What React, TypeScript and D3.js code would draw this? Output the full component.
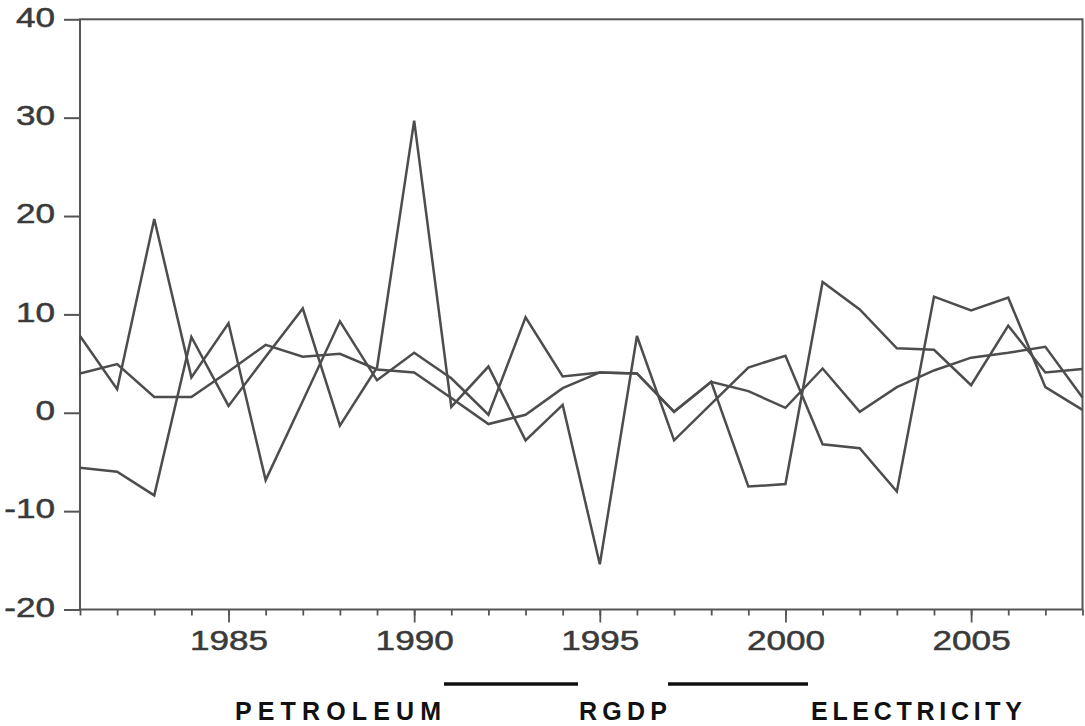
import React, { useEffect, useRef } from 'react';
import * as d3 from 'd3';

const years = d3.range(1981, 2009);

const petroleum = [
  -5.6, -6.0, -8.4, 7.7, 0.7, 5.7, 10.6, -1.3, 4.6, 29.7,
  0.6, 4.7, -2.8, 0.8, -15.4, 7.8, -2.8, 0.9, 4.6, 5.8,
  -3.2, -3.6, -8.0, 11.8, 10.4, 11.7, 2.6, 0.3,
];
const rgdp = [
  4.0, 4.95, 1.6, 1.6, 4.2, 6.9, 5.7, 6.0, 4.4, 4.1,
  1.5, -1.15, -0.2, 2.5, 4.1, 4.0, 0.1, 3.15, 2.2, 0.5,
  4.5, 0.1, 2.6, 4.3, 5.6, 6.1, 6.7, 1.55,
];
const electricity = [
  7.8, 2.4, 19.7, 3.6, 9.1, -6.85, 1.2, 9.3, 3.3, 6.1,
  3.5, -0.2, 9.7, 3.7, 4.1, 4.0, 0.1, 3.15, -7.5, -7.25,
  13.3, 10.5, 6.55, 6.4, 2.8, 8.85, 4.1, 4.45,
];

const yTicks = [-20, -10, 0, 10, 20, 30, 40];
const xLabelTicks = [1985, 1990, 1995, 2000, 2005];
const seriesNames = ['PETROLEUM', 'RGDP', 'ELECTRICITY'];

// widen the axis digits like the scanned original
function stretchText(sel: d3.Selection<any, any, any, any>, k: number) {
  sel.each(function () {
    const t = this as SVGTextElement;
    const w = t.getComputedTextLength();
    d3.select(t).attr('textLength', w * k).attr('lengthAdjust', 'spacingAndGlyphs');
  });
}

export default function App() {
  const ref = useRef<SVGSVGElement>(null);

  useEffect(() => {
    const svg = d3.select(ref.current);
    svg.selectAll('*').remove();

    const left = 80, right = 1082.5, top = 19.3, bottom = 609.5;
    const x = d3.scaleLinear().domain([1981, 2008]).range([left, right]);
    const y = d3.scaleLinear().domain([-20, 40]).range([bottom, top]);
    const axisColor = '#555';
    const textColor = '#3a3a3a';
    const stretch = 1.3;

    // frame
    svg.append('rect')
      .attr('x', left).attr('y', top)
      .attr('width', right - left).attr('height', bottom - top)
      .attr('fill', 'none').attr('stroke', axisColor).attr('stroke-width', 2);

    // y axis (plain hyphen for negatives, as in the original)
    const yAxis = svg.append('g')
      .attr('transform', `translate(${left},0)`)
      .call(d3.axisLeft(y).tickValues(yTicks).tickSize(16).tickFormat((d) => String(d)));
    yAxis.select('.domain').remove();
    yAxis.selectAll('line').attr('stroke', axisColor).attr('stroke-width', 2);
    yAxis.selectAll('text')
      .attr('x', -25)
      .attr('dy', '0.25em')
      .attr('font-family', 'Liberation Sans, Arial, sans-serif')
      .attr('font-size', 27)
      .attr('fill', textColor)
      .attr('stroke', textColor)
      .attr('stroke-width', 0.5);
    stretchText(yAxis.selectAll('text'), stretch);

    // x axis minor ticks
    const xMinor = svg.append('g')
      .attr('transform', `translate(0,${bottom})`)
      .call(d3.axisBottom(x).tickValues(years).tickSize(6).tickFormat(() => ''));
    xMinor.select('.domain').remove();
    xMinor.selectAll('line').attr('stroke', axisColor).attr('stroke-width', 1.8);

    // x axis major ticks with labels
    const xAxis = svg.append('g')
      .attr('transform', `translate(0,${bottom})`)
      .call(d3.axisBottom(x).tickValues(xLabelTicks).tickSize(13).tickFormat((d) => String(d)));
    xAxis.select('.domain').remove();
    xAxis.selectAll('line').attr('stroke', axisColor).attr('stroke-width', 1.8);
    xAxis.selectAll('text')
      .attr('y', 40)
      .attr('dy', 0)
      .attr('font-family', 'Liberation Sans, Arial, sans-serif')
      .attr('font-size', 27)
      .attr('fill', textColor)
      .attr('stroke', textColor)
      .attr('stroke-width', 0.5);
    stretchText(xAxis.selectAll('text'), stretch);

    // series lines
    const line = d3.line<number>()
      .x((_, i) => x(years[i]))
      .y((d) => y(d));

    const plot = svg.append('g');
    [petroleum, rgdp, electricity].forEach((s) => {
      plot.append('path')
        .datum(s)
        .attr('d', line)
        .attr('fill', 'none')
        .attr('stroke', '#4d4d4d')
        .attr('stroke-width', 2.5);
    });

    // legend
    const legendY = 720;
    const legendText = [
      { x: 235, w: 206 },
      { x: 579, w: 88 },
      { x: 811, w: 211 },
    ];
    const legend = svg.append('g');
    seriesNames.forEach((name, i) => {
      legend.append('text')
        .attr('x', legendText[i].x)
        .attr('y', legendY)
        .attr('textLength', legendText[i].w)
        .attr('lengthAdjust', 'spacing')
        .attr('font-family', 'Liberation Sans Narrow, Arial Narrow, Liberation Sans, Arial, sans-serif')
        .attr('font-weight', 'bold')
        .attr('font-size', 25)
        .attr('fill', '#111')
        .text(name);
    });
    [[444, 578], [668, 808]].forEach(([a, b]) => {
      legend.append('line')
        .attr('x1', a).attr('x2', b)
        .attr('y1', 684).attr('y2', 684)
        .attr('stroke', '#111')
        .attr('stroke-width', 3.5);
    });
  }, []);

  return (
    <svg
      ref={ref}
      width={1085}
      height={726}
      style={{ position: 'absolute', left: 0, top: 0, background: '#fff' }}
    />
  );
}
